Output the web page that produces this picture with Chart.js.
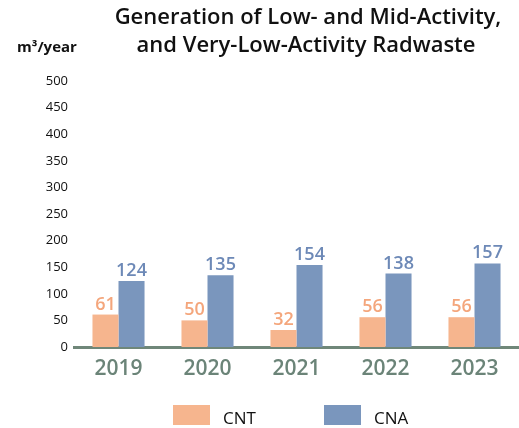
<!DOCTYPE html>
<html>
<head>
<meta charset="utf-8">
<script src="https://cdn.jsdelivr.net/npm/chart.js@4/dist/chart.umd.min.js"></script>
<style>
  body { margin: 0; background: #fff; }
  canvas { display: block; }
</style>
</head>
<body>
<canvas id="radwasteChart" width="519" height="428"></canvas>
<script>
// data
var years = ["2019", "2020", "2021", "2022", "2023"];
var cntValues = [61, 50, 32, 56, 56];
var cnaValues = [124, 135, 154, 138, 157];
var seriesNames = ["CNT", "CNA"];

var barColors = ["#f6b58e", "#7a96bd"];
var labelColors = ["#f4a67c", "#6d89b7"];
var FONT = "'Open Sans', sans-serif";

// title, unit, value labels and legend drawn on top of the chart
var decorations = {
    id: 'decorations',
    afterDatasetsDraw: function (chart) {
        var ctx = chart.ctx;
        ctx.save();
        ctx.fillStyle = '#111';
        ctx.textAlign = 'center';
        ctx.textBaseline = 'alphabetic';
        ctx.font = "600 22px " + FONT;
        ctx.fillText("Generation of Low- and Mid-Activity,", 308, 24);
        ctx.fillText("and Very-Low-Activity Radwaste", 306, 52);

        ctx.textAlign = 'left';
        ctx.font = "bold 15px " + FONT;
        ctx.fillText("m\u00B3/year", 17, 52);

        // values above each bar
        ctx.textAlign = 'center';
        ctx.font = "600 18px " + FONT;
        chart.data.datasets.forEach(function (ds, i) {
            var meta = chart.getDatasetMeta(i);
            ctx.fillStyle = labelColors[i];
            meta.data.forEach(function (bar, j) {
                ctx.fillText(ds.data[j], bar.x, bar.y - 5);
            });
        });

        // legend
        var legendX = [173, 324];
        ctx.font = "17px " + FONT;
        ctx.textAlign = 'left';
        chart.data.datasets.forEach(function (ds, i) {
            ctx.fillStyle = ds.backgroundColor;
            ctx.fillRect(legendX[i], 405, 37, 20);
            ctx.fillStyle = '#111';
            ctx.fillText(ds.label, legendX[i] + 50, 424);
        });
        ctx.restore();
    }
};

var ctx = document.getElementById("radwasteChart");
var radwasteChart = new Chart(ctx, {
    type: 'bar',
    data: {
        labels: years,
        datasets: [{
            label: seriesNames[0],
            data: cntValues,
            backgroundColor: barColors[0],
            categoryPercentage: 0.585,
            barPercentage: 1.0
        }, {
            label: seriesNames[1],
            data: cnaValues,
            backgroundColor: barColors[1],
            categoryPercentage: 0.585,
            barPercentage: 1.0
        }]
    },
    options: {
        responsive: false,
        animation: false,
        layout: {
            padding: { top: 81, right: 0, bottom: 0, left: 0 }
        },
        plugins: {
            legend: { display: false },
            title: { display: false },
            tooltip: { enabled: false }
        },
        scales: {
            x: {
                grid: { display: false, drawTicks: false },
                border: { display: true, color: '#6f8779', width: 3 },
                ticks: {
                    color: '#6b8478',
                    font: { family: FONT, size: 21, weight: '600' },
                    padding: 9
                },
                afterFit: function (scale) { scale.height = 81; }
            },
            y: {
                min: 0,
                max: 500,
                grid: { display: false, drawTicks: false },
                border: { display: false },
                ticks: {
                    stepSize: 50,
                    color: '#111',
                    font: { family: FONT, size: 13 },
                    padding: 6
                },
                afterFit: function (scale) { scale.width = 74; }
            }
        }
    },
    plugins: [decorations]
});
</script>
</body>
</html>
